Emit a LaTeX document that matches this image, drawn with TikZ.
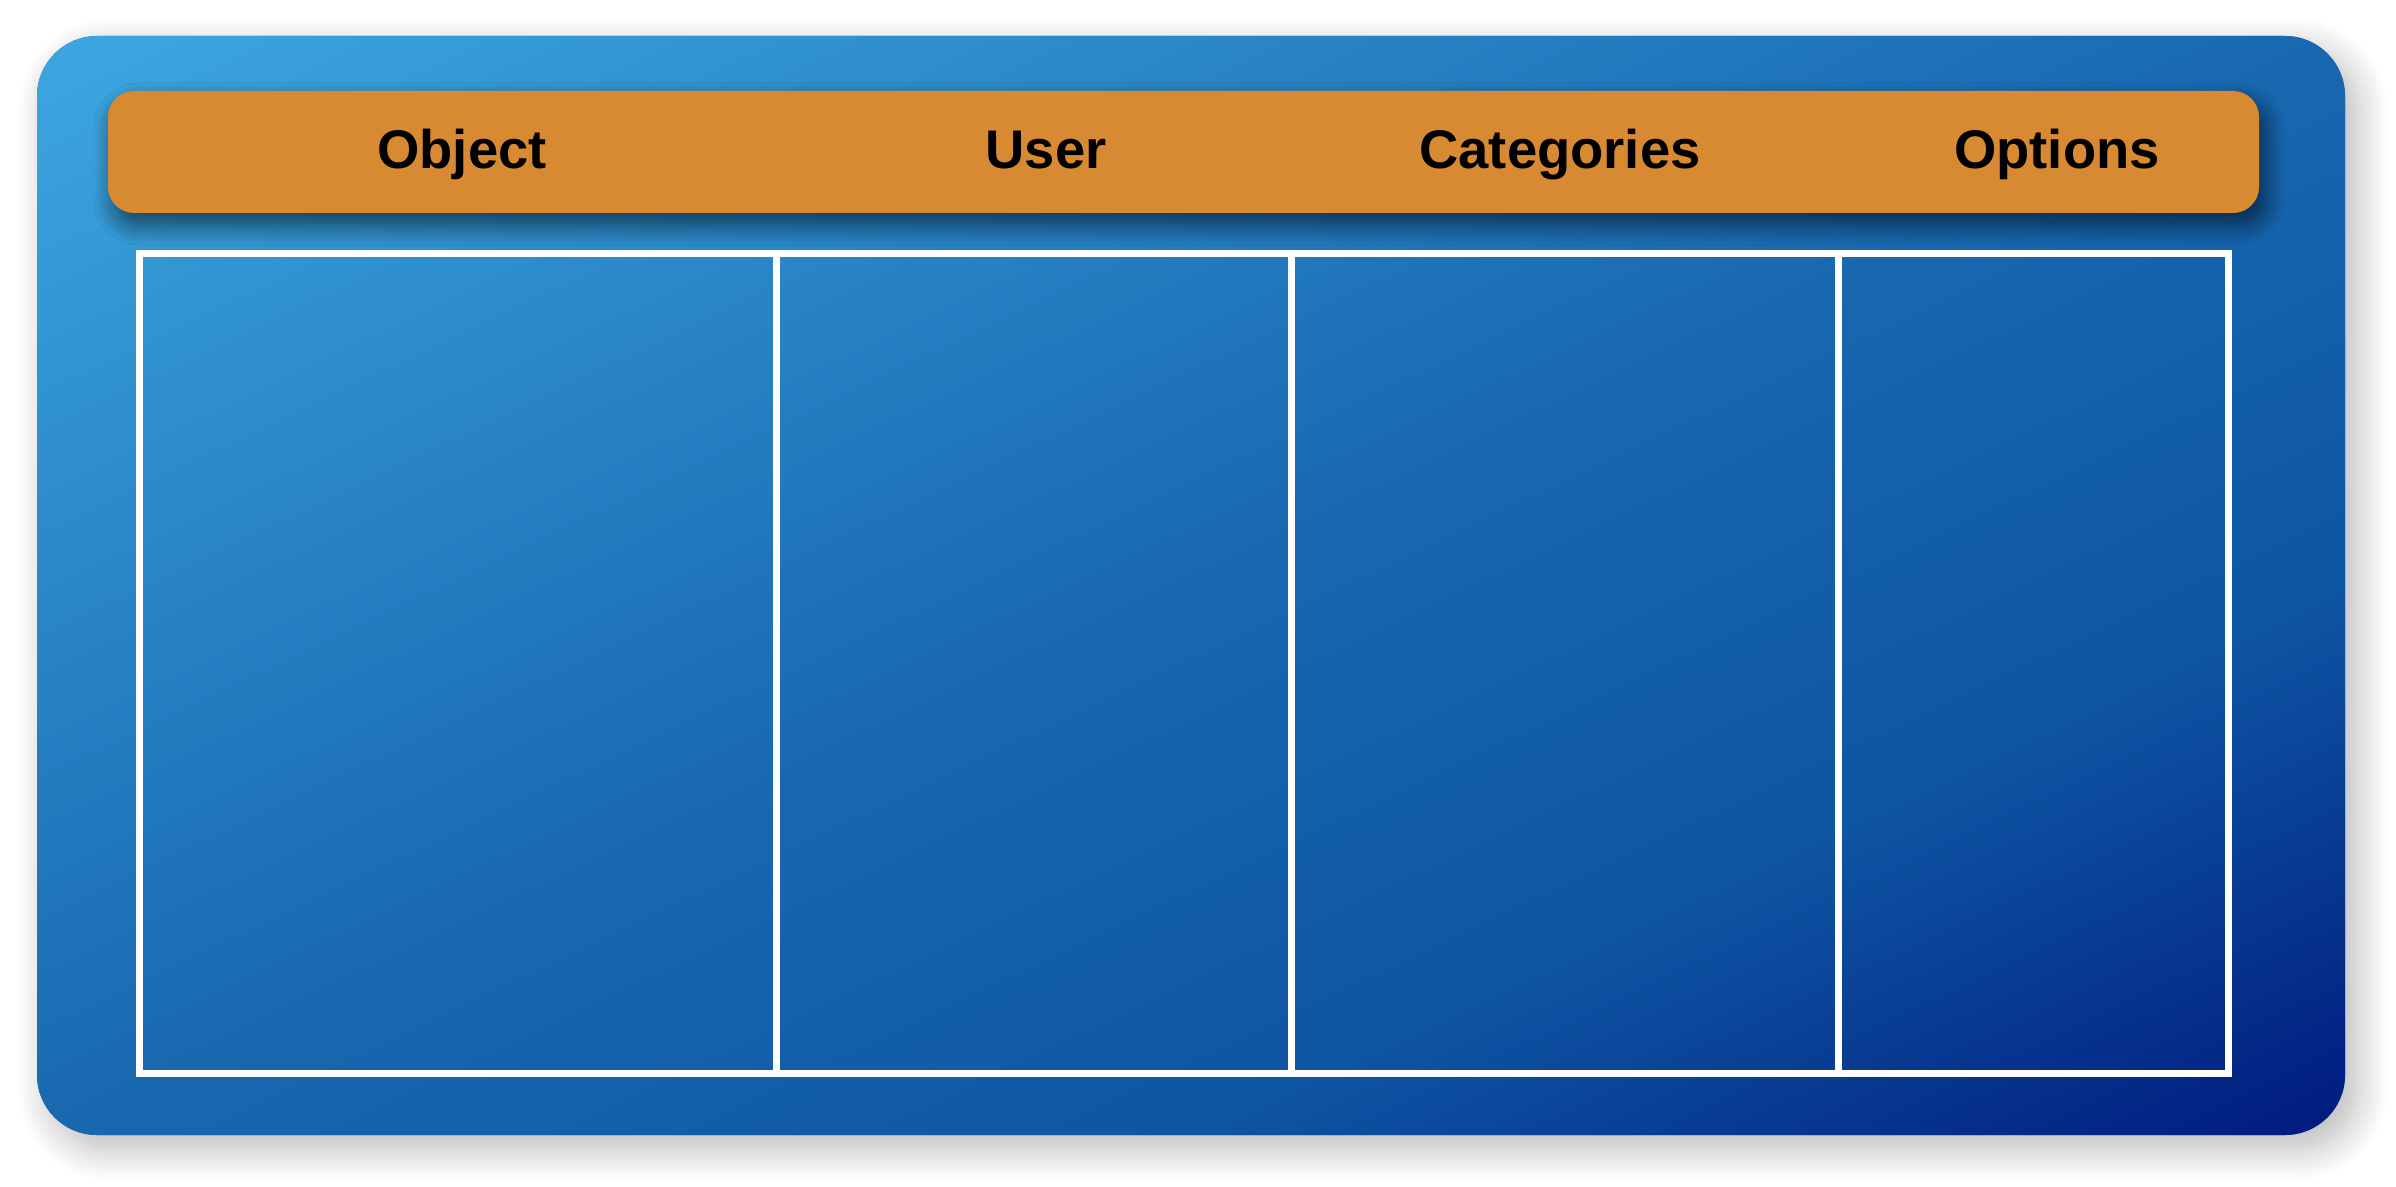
\documentclass[tikz,border=0pt]{standalone}
\usepackage{fontspec}
\setmainfont{Liberation Sans}
\usetikzlibrary{shadows.blur}
\definecolor{bgtop}{HTML}{3DA7E0}
\definecolor{bgmid}{HTML}{1868B0}
\definecolor{bgdeep}{HTML}{0E55A3}
\definecolor{bgbot}{HTML}{001A7E}
\definecolor{barorange}{HTML}{D78A32}
\pgfdeclarehorizontalshading{panelshade}{100bp}{color(0bp)=(bgtop); color(25bp)=(bgtop); color(50bp)=(bgmid); color(62.5bp)=(bgdeep); color(75bp)=(bgbot); color(100bp)=(bgbot)}

\begin{document}
\begin{tikzpicture}[x=0.25pt,y=0.25pt,yscale=-1,xscale=1,
  cell/.style={draw=white, line width=1.75pt},
  head/.style={font=\bfseries\fontsize{13.6}{16}\selectfont, anchor=base, inner sep=0pt}]
\useasboundingbox (0,0) rectangle (2396,1187);

%Rounded Rect (panel) with its shadow
\fill [rounded corners=15pt, bgmid,
  blur shadow={shadow xshift=3pt, shadow yshift=-3.5pt, shadow blur radius=8pt, shadow blur steps=12, shadow opacity=28}]
  (37,36) rectangle (2345,1135);
%Gradient of the panel, corner to corner
\begin{scope}
\clip [rounded corners=15pt] (37,36) rectangle (2345,1135);
\begin{scope}[reset cm, transform canvas={cm={5.77,-2.7475,5.77,2.7475,(-279.25pt,-146.375pt)}}]
\shade [shading=panelshade] (0pt,0pt) rectangle (100pt,100pt);
\end{scope}
\end{scope}

%Rounded Rect (header bar)
\fill [rounded corners=6.5pt, barorange,
  blur shadow={shadow xshift=1.5pt, shadow yshift=-3pt, shadow blur radius=5pt, shadow blur steps=10, shadow opacity=60}]
  (108,91) rectangle (2259,213);

%Shape: Rectangle (columns)
\draw [cell] (139,253) rectangle (776,1073) ;
\draw [cell] (776,253) rectangle (1291,1073) ;
\draw [cell] (1291,253) rectangle (1838,1073) ;
\draw [cell] (1838,253) rectangle (2228,1073) ;

% Text Node
\node (object) [head] at (462,168) {Object};
% Text Node
\node (user) [head] at (1046,168) {User};
% Text Node
\node (categories) [head] at (1560,168) {Categories};
% Text Node
\node (options) [head] at (2057,168) {Options};

\end{tikzpicture}
\end{document}
